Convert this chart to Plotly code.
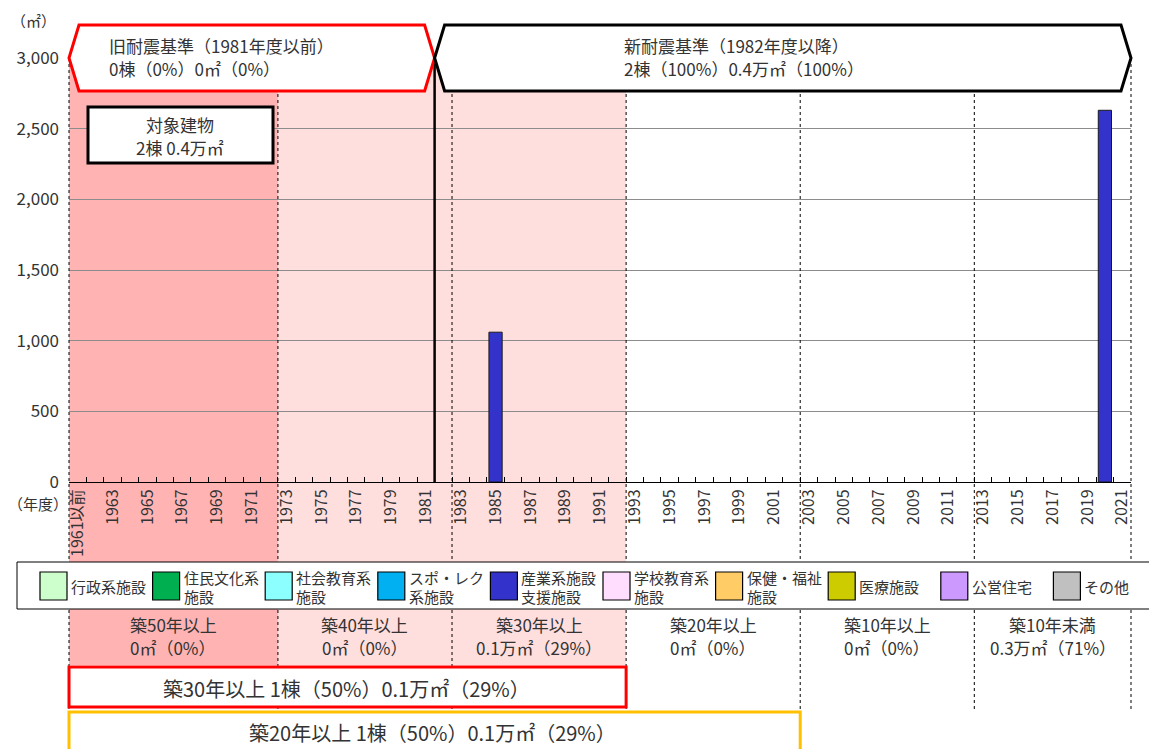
import plotly.graph_objects as go

# ---------------- data ----------------
years = ["1961以前"] + [str(y) for y in range(1962, 2022)]
tick_text = [lbl if i % 2 == 0 else "" for i, lbl in enumerate(years)]
industrial_area = {"1985": 1060, "2020": 2630}   # 産業系施設支援施設 (㎡)
industrial_values = [industrial_area.get(y) for y in years]

legend_names = [["行政系施設"], ["住民文化系", "施設"], ["社会教育系", "施設"], ["スポ・レク", "系施設"],
                ["産業系施設", "支援施設"], ["学校教育系", "施設"], ["保健・福祉", "施設"],
                ["医療施設"], ["公営住宅"], ["その他"]]
legend_colors = ["#CCFFCC", "#00B050", "#8CFFFF", "#00B0F0", "#3333CC",
                 "#FFDDFF", "#FFCC66", "#CCCC00", "#CC99FF", "#C0C0C0"]

band_bounds = ["1961以前", "1973", "1983", "1993", "2003", "2013", None]  # None = end
band_titles = ["築50年以上", "築40年以上", "築30年以上", "築20年以上", "築10年以上", "築10年未満"]
band_values = ["0㎡（0%）", "0㎡（0%）", "0.1万㎡（29%）", "0㎡（0%）", "0㎡（0%）", "0.3万㎡（71%）"]

old_std_lines = ["旧耐震基準（1981年度以前）", "0棟（0%）0㎡（0%）"]
new_std_lines = ["新耐震基準（1982年度以降）", "2棟（100%）0.4万㎡（100%）"]
target_lines = ["対象建物", "2棟 0.4万㎡"]
over30_text = "築30年以上 1棟（50%）0.1万㎡（29%）"
over20_text = "築20年以上 1棟（50%）0.1万㎡（29%）"

# ---------------- geometry helpers ----------------
W, H = 1149, 749
L, R, T, B = 69, 1131, 58, 482
N = len(years)
FONT = "Noto Sans CJK JP"
TXT = "#333333"


def xp(px):
    return (px - L) / (R - L)


def yp(py):
    return (B - py) / (B - T)


def bidx(lbl):
    return N if lbl is None else years.index(lbl)


def bpx(b):
    return L + b * (R - L) / N


band_idx = [bidx(b) for b in band_bounds]
seis_idx = years.index("1982")

fig = go.Figure()
fig.add_trace(go.Bar(
    x=years, y=industrial_values, name="産業系施設支援施設",
    marker=dict(color="#3333CC", line=dict(color="#1a1a1a", width=1)),
    showlegend=False,
))

shapes = []
annotations = []


def text(px, py, s, size, anchor="center"):
    annotations.append(dict(xref="paper", yref="paper", x=xp(px), y=yp(py), xanchor=anchor,
                            yanchor="middle", text=s, showarrow=False,
                            font=dict(family=FONT, size=size, color=TXT)))


# pink shading (築50年以上 darker, 築40/30年以上 lighter)
shapes.append(dict(type="rect", xref="paper", yref="paper", layer="below",
                   x0=xp(bpx(band_idx[0])), x1=xp(bpx(band_idx[1])), y0=yp(58), y1=yp(665),
                   fillcolor="#FFB3B3", line=dict(width=0)))
shapes.append(dict(type="rect", xref="paper", yref="paper", layer="below",
                   x0=xp(bpx(band_idx[1])), x1=xp(bpx(band_idx[3])), y0=yp(58), y1=yp(665),
                   fillcolor="#FFDEDE", line=dict(width=0)))

# dashed band boundaries
for k, b in enumerate(band_idx):
    x = xp(bpx(b))
    bottom = 749 if k == 0 else 712
    shapes.append(dict(type="line", xref="paper", yref="paper", x0=x, x1=x,
                       y0=yp(58), y1=yp(bottom), line=dict(color="#000000", width=1, dash="dot")))

# solid seismic standard divider
xs = xp(bpx(seis_idx))
shapes.append(dict(type="line", xref="paper", yref="paper", x0=xs, x1=xs,
                   y0=yp(58), y1=yp(482), line=dict(color="#000000", width=2.5)))


def hexpath(xl, xr, yt, ym, yb, notch):
    pts = [(xl, ym), (xl + notch, yt), (xr - notch, yt), (xr, ym), (xr - notch, yb), (xl + notch, yb)]
    return "M " + " L ".join(f"{xp(a):.5f},{yp(c):.5f}" for a, c in pts) + " Z"


x_old_l = bpx(0)
x_new_l = bpx(seis_idx)
x_new_r = bpx(N)
shapes.append(dict(type="path", xref="paper", yref="paper",
                   path=hexpath(x_old_l, x_new_l, 25, 58, 91, 10),
                   fillcolor="white", line=dict(color="#FF0000", width=3)))
shapes.append(dict(type="path", xref="paper", yref="paper",
                   path=hexpath(x_new_l, x_new_r, 25, 58, 91, 10),
                   fillcolor="white", line=dict(color="#000000", width=3)))
text(107, 46, old_std_lines[0], 17, "left")
text(107, 69, old_std_lines[1], 17, "left")
text(622, 46, new_std_lines[0], 17, "left")
text(622, 69, new_std_lines[1], 17, "left")

# 対象建物 box
shapes.append(dict(type="rect", xref="paper", yref="paper", x0=xp(88), x1=xp(273), y0=yp(107), y1=yp(163),
                   fillcolor="white", line=dict(color="#000000", width=3)))
text(180, 124, target_lines[0], 17)
text(180, 147, target_lines[1], 17)

# legend box
shapes.append(dict(type="rect", xref="paper", yref="paper", x0=xp(17), x1=xp(1152), y0=yp(562), y1=yp(609),
                   fillcolor="white", line=dict(color="#000000", width=1)))
for k, (nm, col) in enumerate(zip(legend_names, legend_colors)):
    x0 = 40 + k * 112.6
    shapes.append(dict(type="rect", xref="paper", yref="paper", x0=xp(x0), x1=xp(x0 + 27),
                       y0=yp(572), y1=yp(600), fillcolor=col, line=dict(color="#000000", width=1.2)))
    if len(nm) == 1:
        text(x0 + 29, 586, nm[0], 15, "left")
    else:
        text(x0 + 29, 577, nm[0], 15, "left")
        text(x0 + 29, 596, nm[1], 15, "left")

# band labels
for k in range(len(band_titles)):
    cx = (bpx(band_idx[k]) + bpx(band_idx[k + 1])) / 2
    text(cx, 624, band_titles[k], 17)
    text(cx, 647, band_values[k], 17)

# summary boxes
shapes.append(dict(type="rect", xref="paper", yref="paper", x0=xp(bpx(band_idx[0])), x1=xp(bpx(band_idx[3])),
                   y0=yp(667), y1=yp(707), fillcolor="white", line=dict(color="#FF0000", width=3)))
text(346, 688, over30_text, 20)
shapes.append(dict(type="rect", xref="paper", yref="paper", x0=xp(bpx(band_idx[0])), x1=xp(bpx(band_idx[4])),
                   y0=yp(712), y1=yp(755), fillcolor="white", line=dict(color="#FFC000", width=3)))
text(432, 733, over20_text, 20)

# axis unit labels
text(33, 20, "（㎡）", 15)
text(38, 503, "（年度）", 15)

fig.update_layout(
    width=W, height=H,
    margin=dict(l=L, r=W - R, t=T, b=H - B),
    paper_bgcolor="white", plot_bgcolor="rgba(0,0,0,0)",
    bargap=0.24, showlegend=False,
    font=dict(family=FONT, color=TXT),
    shapes=shapes, annotations=annotations,
    xaxis=dict(type="category", categoryorder="array", categoryarray=years,
               range=[-0.5, N - 0.5], tickmode="array", tickvals=years, ticktext=tick_text,
               tickangle=-90, tickson="boundaries", ticks="inside", ticklen=5, tickcolor="#000000",
               showline=True, linecolor="#000000", linewidth=1, showgrid=False,
               tickfont=dict(family=FONT, size=16, color=TXT)),
    yaxis=dict(range=[0, 3000], tickmode="array", tickvals=[0, 500, 1000, 1500, 2000, 2500, 3000],
               tickformat=",", showgrid=True, gridcolor="#8C8C8C", gridwidth=1, zeroline=False,
               showline=False, ticks="", ticklabelstandoff=9,
               tickfont=dict(family=FONT, size=17, color=TXT)),
)

fig.write_html("out.html")
